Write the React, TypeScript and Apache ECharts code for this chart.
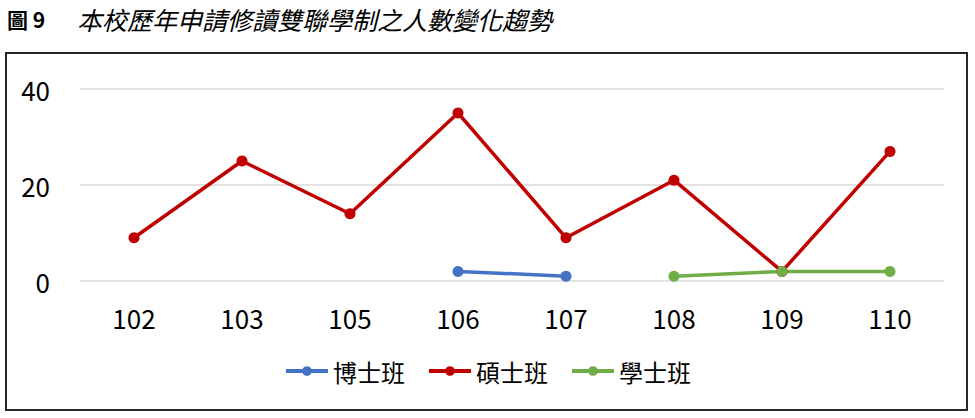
import React, { useEffect, useRef } from "react";
import * as echarts from "echarts";

const categories = ["102", "103", "105", "106", "107", "108", "109", "110"];
const phdValues = [null, null, null, 2, 1, null, null, null];
const masterValues = [9, 25, 14, 35, 9, 21, 2, 27];
const bachelorValues = [null, null, null, null, null, 1, 2, 2];
const seriesNames = ["博士班", "碩士班", "學士班"];
const seriesColors = ["#4472C4", "#C00000", "#70AD47"];
const titleLabel = "圖 9";
const titleText = "本校歷年申請修讀雙聯學制之人數變化趨勢";

const FONT = "'Noto Sans CJK TC', 'Noto Sans', sans-serif";

export default function App() {
  const ref = useRef<HTMLDivElement>(null);
  useEffect(() => {
    if (!ref.current) return;
    const chart = echarts.init(ref.current, null, { renderer: "svg" });
    const data = [phdValues, masterValues, bachelorValues];
    chart.setOption({
      animation: false,
      backgroundColor: "#ffffff",
      textStyle: { fontFamily: FONT },
      graphic: [
        {
          type: "text",
          x: 7,
          y: 19,
          style: {
            text: titleLabel,
            fontSize: 21,
            fontWeight: "bold",
            fontFamily: "'Noto Sans CJK TC', 'Liberation Serif', serif",
            fill: "#000",
            verticalAlign: "middle",
            align: "left",
          },
        },
        {
          type: "text",
          x: 77,
          y: 19,
          style: {
            text: titleText,
            fontSize: 25,
            fontStyle: "italic",
            fontFamily: FONT,
            fill: "#000",
            verticalAlign: "middle",
            align: "left",
          },
        },
        {
          type: "rect",
          shape: { x: 6, y: 53, width: 961, height: 357 },
          style: { fill: "none", stroke: "#262626", lineWidth: 2 },
          silent: true,
        },
      ],
      legend: {
        data: seriesNames,
        bottom: 30,
        left: "center",
        itemWidth: 42,
        itemHeight: 12,
        itemGap: 22,
        lineStyle: { width: 4 },
        textStyle: { fontSize: 24, color: "#000", fontFamily: FONT },
      },
      grid: { left: 80, right: 31, top: 89, bottom: 137 },
      xAxis: {
        type: "category",
        data: categories,
        boundaryGap: true,
        axisLine: { show: false },
        axisTick: { show: false },
        axisLabel: { fontSize: 26, color: "#000", margin: 23, fontFamily: FONT },
      },
      yAxis: {
        type: "value",
        min: 0,
        max: 40,
        interval: 20,
        axisLine: { show: false },
        axisTick: { show: false },
        axisLabel: { fontSize: 26, color: "#000", margin: 30, fontFamily: FONT },
        splitLine: { lineStyle: { color: "#d9d9d9", width: 1.5 } },
      },
      series: seriesNames.map((name, i) => ({
        name,
        type: "line",
        data: data[i],
        connectNulls: false,
        symbol: "circle",
        symbolSize: 11,
        showSymbol: true,
        color: seriesColors[i],
        lineStyle: { width: 3.5, color: seriesColors[i] },
        itemStyle: { color: seriesColors[i] },
      })),
    });
    return () => chart.dispose();
  }, []);
  return (
    <div
      ref={ref}
      style={{ position: "fixed", left: 0, top: 0, width: 975, height: 418 }}
    />
  );
}
